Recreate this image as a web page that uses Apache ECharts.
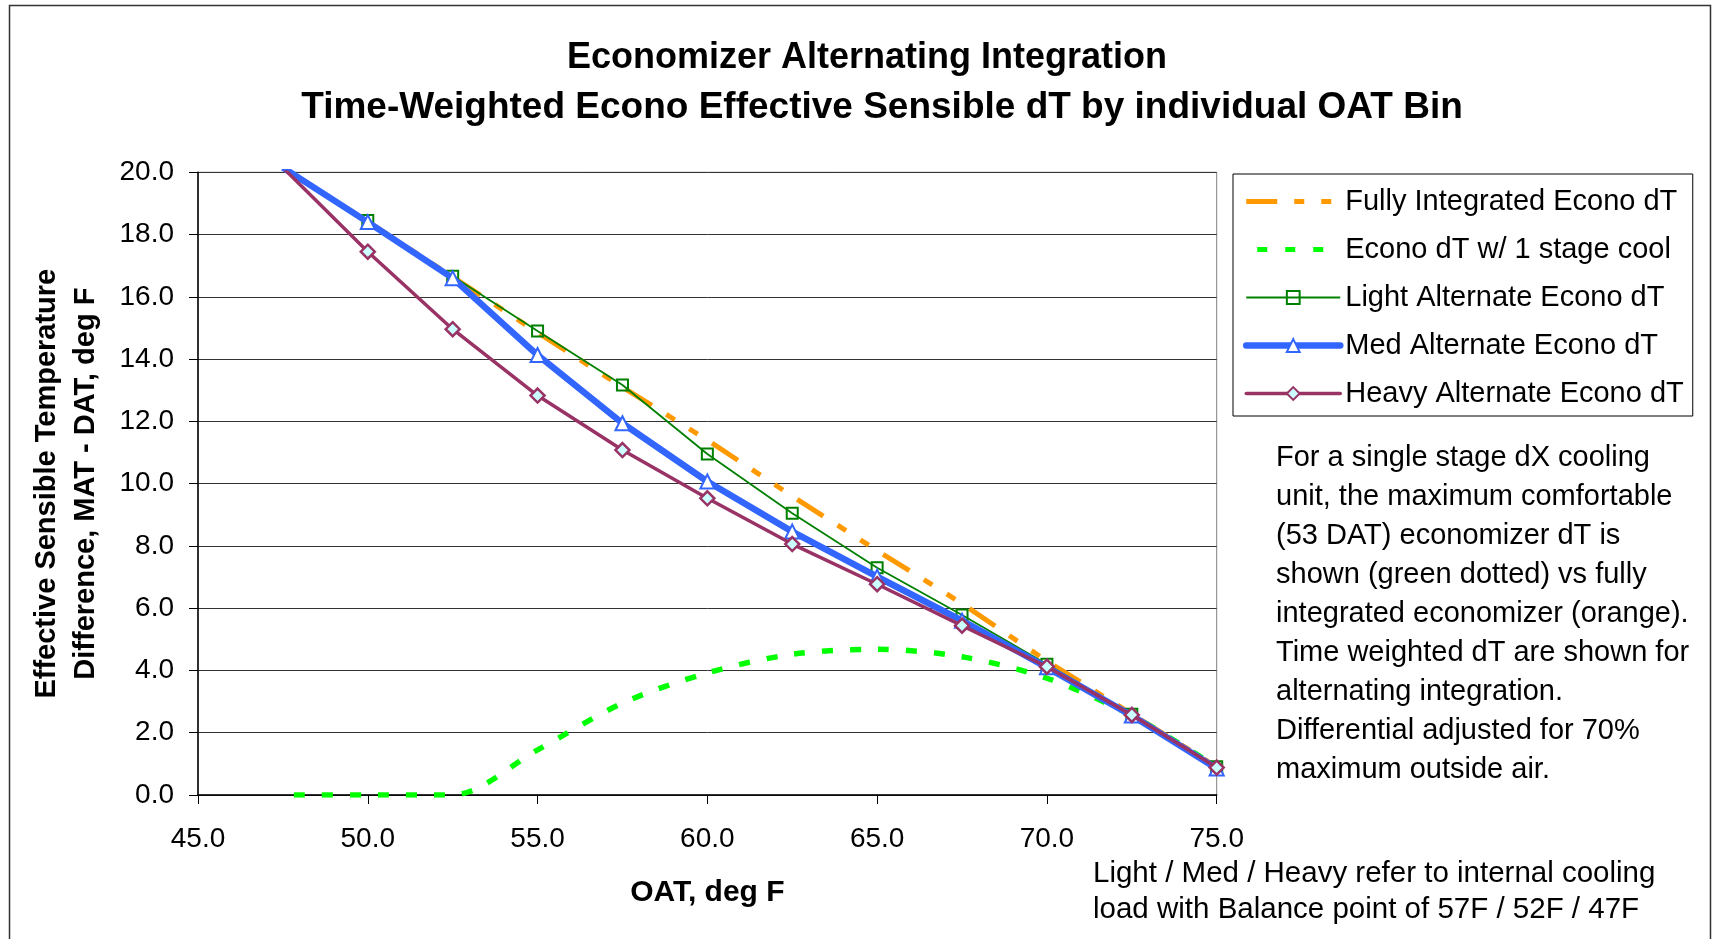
<!DOCTYPE html>
<html>
<head>
<meta charset="utf-8">
<script src="https://cdn.jsdelivr.net/npm/echarts@6/dist/echarts.min.js"></script>
<style>
html,body{margin:0;padding:0;background:#fff;}
#chart{width:1712px;height:939px;}
</style>
</head>
<body>
<div id="chart"></div>
<script>
// ---- data ----
const oatBins = [47.5, 50.0, 52.5, 55.0, 57.5, 60.0, 62.5, 65.0, 67.5, 70.0, 72.5, 75.0];
const fullyIntegrated = [20.15, 18.42, 16.64, 14.85, 13.10, 11.40, 9.60, 7.85, 6.15, 4.30, 2.60, 0.90];
const oneStageCool   = [0.00, 0.00, 0.00, 1.45, 2.95, 3.92, 4.52, 4.68, 4.44, 3.75, 2.55, 0.90];
const lightAlt       = [20.15, 18.45, 16.66, 14.90, 13.17, 10.95, 9.05, 7.30, 5.78, 4.20, 2.59, 0.91];
const medAlt         = [20.15, 18.40, 16.60, 14.13, 11.94, 10.07, 8.46, 7.01, 5.60, 4.10, 2.55, 0.85];
const heavyAlt       = [20.15, 17.45, 14.96, 12.83, 11.08, 9.53, 8.06, 6.77, 5.44, 4.12, 2.57, 0.88];
const seriesNames = ['Fully Integrated Econo dT', 'Econo dT w/ 1 stage cool', 'Light Alternate Econo dT', 'Med Alternate Econo dT', 'Heavy Alternate Econo dT'];
const titleLines = ['Economizer Alternating Integration', 'Time-Weighted Econo Effective Sensible dT by individual OAT Bin'];
const yAxisTitle = ['Effective Sensible Temperature', 'Difference, MAT - DAT, deg F'];
const xAxisTitle = 'OAT, deg F';
const noteLines = ['For a single stage dX cooling', 'unit, the maximum comfortable', '(53 DAT) economizer dT is', 'shown (green dotted) vs fully', 'integrated economizer (orange).', 'Time weighted dT are shown for', 'alternating integration.', 'Differential adjusted for 70%', 'maximum outside air.'];
const footLines = ['Light / Med / Heavy refer to internal cooling', 'load with Balance point of 57F / 52F / 47F'];

const pair = arr => oatBins.map((x, i) => [x, arr[i]]);
const FONT = "'Liberation Sans', Arial, Helvetica, sans-serif";

const chart = echarts.init(document.getElementById('chart'), null, {renderer: 'canvas'});

const orangeDash = [31, 17, 10, 17, 10, 17];
const greenDash = [11, 17];

const C_ORANGE = '#FF9900', C_LIME = '#00FF00', C_GREEN = '#008000', C_BLUE = '#3366FF', C_PLUM = '#993366';

const option = {
  backgroundColor: '#fff',
  animation: false,
  textStyle: {fontFamily: FONT},
  title: [
    {
      text: titleLines[0], left: 862, textAlign: 'center', top: 33,
      textStyle: {fontFamily: FONT, fontSize: 36, fontWeight: 'bold', color: '#000', lineHeight: 40}
    },
    {
      text: titleLines[1], left: 877, textAlign: 'center', top: 83,
      textStyle: {fontFamily: FONT, fontSize: 37, fontWeight: 'bold', color: '#000', lineHeight: 40}
    }
  ],
  grid: {
    left: 198, top: 172.3, right: 495.3, bottom: 144,
    show: true, borderColor: '#808080', borderWidth: 1, backgroundColor: 'transparent'
  },
  legend: {
    orient: 'vertical',
    left: 1233, top: 174,
    padding: [13, 9, 8, 10],
    itemWidth: 94, itemHeight: 16, itemGap: 19,
    borderColor: '#000', borderWidth: 1,
    textStyle: {fontFamily: FONT, fontSize: 29, color: '#000', lineHeight: 28},
    data: [
      {name: seriesNames[0], lineStyle: {color: C_ORANGE, width: 5, type: orangeDash, cap: 'butt'}, itemStyle: {opacity: 0}},
      {name: seriesNames[1], lineStyle: {color: C_LIME, width: 5, type: [10, 18], cap: 'butt'}, itemStyle: {opacity: 0}},
      {name: seriesNames[2], lineStyle: {color: C_GREEN, width: 1.8}},
      {name: seriesNames[3], lineStyle: {color: C_BLUE, width: 6.5, cap: 'round'}},
      {name: seriesNames[4], lineStyle: {color: C_PLUM, width: 3.5, cap: 'round'}}
    ]
  },
  xAxis: {
    type: 'value', min: 45, max: 75, interval: 5,
    name: xAxisTitle, nameLocation: 'middle', nameGap: 83,
    nameTextStyle: {fontFamily: FONT, fontSize: 30, fontWeight: 'bold', color: '#000', lineHeight: 30},
    axisLine: {show: true, onZero: false, lineStyle: {color: '#000', width: 1.5}},
    axisTick: {show: true, inside: false, length: 9, lineStyle: {color: '#000', width: 1}},
    axisLabel: {margin: 30, fontFamily: FONT, fontSize: 28, color: '#000', formatter: v => v.toFixed(1)},
    splitLine: {show: false}
  },
  yAxis: {
    type: 'value', min: 0, max: 20, interval: 2,
    name: yAxisTitle.join('\n'), nameLocation: 'middle', nameGap: 93, nameRotate: 90,
    nameTextStyle: {fontFamily: FONT, fontSize: 29, fontWeight: 'bold', color: '#000', lineHeight: 39},
    axisLine: {show: true, lineStyle: {color: '#000', width: 1.5}},
    axisTick: {show: true, inside: false, length: 9, lineStyle: {color: '#000', width: 1}},
    axisLabel: {margin: 24, fontFamily: FONT, fontSize: 28, color: '#000', formatter: v => v.toFixed(1)},
    splitLine: {show: true, lineStyle: {color: '#333', width: 1}}
  },
  series: [
    {
      name: seriesNames[0], type: 'line', data: pair(fullyIntegrated),
      symbol: 'none', showSymbol: false,
      lineStyle: {color: C_ORANGE, width: 5, type: orangeDash, cap: 'butt'},
      itemStyle: {color: C_ORANGE}, z: 2
    },
    {
      name: seriesNames[1], type: 'line', data: pair(oneStageCool),
      symbol: 'none', showSymbol: false, smooth: 0.3,
      lineStyle: {color: C_LIME, width: 5.5, type: greenDash, dashOffset: 17, cap: 'butt'},
      itemStyle: {color: C_LIME}, z: 3
    },
    {
      name: seriesNames[2], type: 'line', data: pair(lightAlt),
      symbol: 'rect', symbolSize: 11,
      lineStyle: {color: C_GREEN, width: 1.8},
      itemStyle: {color: 'rgba(255,255,255,0)', borderColor: C_GREEN, borderWidth: 2}, z: 4
    },
    {
      name: seriesNames[3], type: 'line', data: pair(medAlt),
      symbol: 'triangle', symbolSize: 14,
      lineStyle: {color: C_BLUE, width: 6.5},
      itemStyle: {color: '#ffffff', borderColor: C_BLUE, borderWidth: 2}, z: 5
    },
    {
      name: seriesNames[4], type: 'line', data: pair(heavyAlt),
      symbol: 'diamond', symbolSize: 14,
      lineStyle: {color: C_PLUM, width: 3.5},
      itemStyle: {color: '#CCFFFF', borderColor: C_PLUM, borderWidth: 2.5}, z: 6
    }
  ],
  graphic: [
    {
      type: 'rect', silent: true, z: -1,
      shape: {x: 9.5, y: 5.5, width: 1701, height: 945},
      style: {fill: 'none', stroke: '#333', lineWidth: 1.5}
    },
    {
      type: 'text', left: 1276, top: 438.5, silent: true,
      style: {text: noteLines.join('\n'), font: '29px ' + FONT, fill: '#000', lineHeight: 39}
    },
    {
      type: 'text', left: 1093, top: 856, silent: true,
      style: {text: footLines.join('\n'), font: '29.5px ' + FONT, fill: '#000', lineHeight: 36}
    }
  ]
};
chart.setOption(option);
</script>
</body>
</html>
